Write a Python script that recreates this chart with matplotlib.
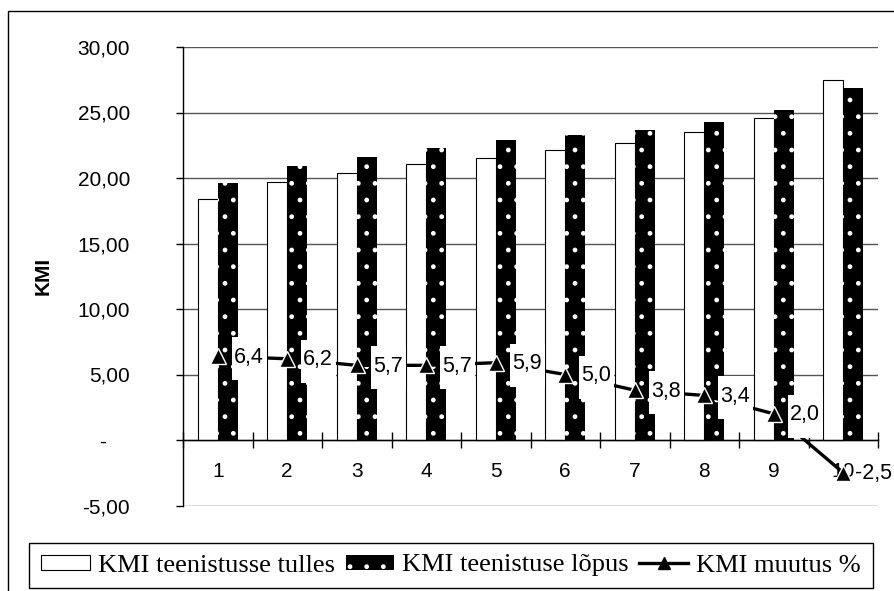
import numpy as np
import matplotlib.pyplot as plt
from matplotlib.patches import Rectangle
from matplotlib.lines import Line2D
from matplotlib.transforms import ScaledTranslation

categories = ['1', '2', '3', '4', '5', '6', '7', '8', '9', '10']
kmi_start = [18.4, 19.7, 20.4, 21.1, 21.5, 22.1, 22.7, 23.5, 24.6, 27.5]
kmi_end = [19.6, 20.9, 21.6, 22.3, 22.9, 23.3, 23.7, 24.3, 25.2, 26.9]
kmi_change = [6.4, 6.2, 5.7, 5.7, 5.9, 5.0, 3.8, 3.4, 2.0, -2.5]
y_ticks = [-5, 0, 5, 10, 15, 20, 25, 30]

series_names = ['KMI teenistusse tulles', 'KMI teenistuse lõpus', 'KMI muutus %']

plt.rcParams['font.family'] = ['Liberation Sans', 'DejaVu Sans']
plt.rcParams['hatch.linewidth'] = 1.0

W, H = 894, 591
fig = plt.figure(figsize=(W / 100, H / 100), dpi=100)
ax = fig.add_axes([183 / W, 1 - 505.5 / H, 695 / W, 458.5 / H])

x = np.arange(1, len(categories) + 1)
bw = 0.29

ax.set_xlim(0.5, len(categories) + 0.5)
ax.set_ylim(-5, 30)

ax.bar(x - bw / 2, kmi_start, bw, color='white', edgecolor='black', linewidth=0.8, zorder=2)
ax.bar(x + bw / 2, kmi_end, bw, color='black', edgecolor='white', linewidth=0, hatch='.', zorder=2)

ax.plot(x, kmi_change, color='black', lw=2.4, zorder=3, solid_capstyle='butt')
ax.plot(x, kmi_change, ls='none', marker='^', ms=12, mfc='black', mec='white', mew=1, zorder=7)

# data labels with white boxes to the right of each point
for xi, v in zip(x, kmi_change):
    label = f"{v:.1f}".replace('.', ',')
    trans = fig.dpi_scale_trans + ScaledTranslation(xi, v, ax.transData)
    if len(label) == 3:
        x0, w = 0.14, 0.35
    else:
        x0, w = 0.10, 0.38
    ax.add_patch(Rectangle((x0, -0.24), w, 0.43, transform=trans, fc='white', ec='none',
                           zorder=4, clip_on=False))
    ax.text(x0 + 0.02, -0.01, label, transform=trans, ha='left', va='center', fontsize=15.5,
            zorder=5)

# category labels under the zero line
for xi, c in zip(x, categories):
    ax.annotate(c, (xi, 0), xytext=(0, -22.5), textcoords='offset points',
                ha='center', va='center', fontsize=15, zorder=6)

ax.set_xticks(np.arange(0.5, len(categories) + 1))
ax.tick_params(axis='x', direction='inout', length=11, width=1, labelbottom=False)

ax.set_yticks(y_ticks)
ax.set_yticklabels(['-    ' if t == 0 else f"{t:.2f}".replace('.', ',') for t in y_ticks])
ax.tick_params(axis='y', direction='out', length=5, width=1, pad=33, labelsize=15)

ax.grid(axis='y', color='#555555', lw=1.0, zorder=0)
ax.set_axisbelow(True)

ax.spines['top'].set_visible(False)
ax.spines['right'].set_visible(False)
ax.spines['bottom'].set_position(('data', 0))
ax.spines['bottom'].set_zorder(2.6)
for s in ['left', 'bottom']:
    ax.spines[s].set_color('black')
    ax.spines[s].set_linewidth(1)

ax.set_ylabel('KMI', fontweight='bold', fontsize=15)
ax.yaxis.set_label_coords(-0.187, 0.5)

handles = [
    Rectangle((0, 0), 1, 1, fc='white', ec='black', lw=0.8),
    Rectangle((0, 0), 1, 1, fc='black', ec='white', lw=0, hatch='.'),
    Line2D([], [], color='black', lw=2.4, marker='^', ms=9, mfc='black', mec='black'),
]
leg = fig.legend(handles, series_names, loc='center', bbox_to_anchor=(451 / W, 1 - 565.5 / H),
                 ncol=3, frameon=True, fancybox=False, edgecolor='black', framealpha=1,
                 prop={'family': 'Liberation Serif', 'size': 19},
                 handlelength=1.85, handleheight=0.5, handletextpad=0.3, columnspacing=0.4,
                 borderpad=0.45, borderaxespad=0)
leg.get_frame().set_linewidth(1)

# outer chart border (cut off at right and bottom)
fig.add_artist(Rectangle((8 / W, -0.05), 1.2, 1 - 11 / H + 0.05, transform=fig.transFigure,
                         fill=False, ec='black', lw=1))

ax.set_xlim(0.5, len(categories) + 0.5)
ax.set_ylim(-5, 30)

fig.savefig('out.png', dpi=100)
